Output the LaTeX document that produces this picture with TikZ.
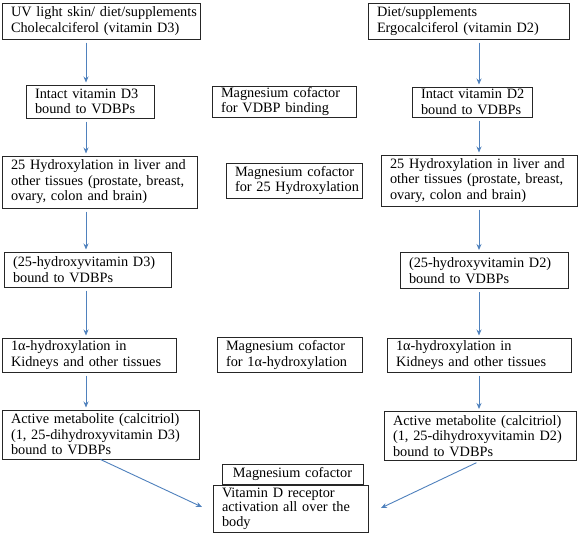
\documentclass[tikz,border=0pt]{standalone}
\usepackage{fontspec}
\setmainfont{Liberation Serif}
\usetikzlibrary{arrows.meta}
\definecolor{arrblue}{RGB}{79,129,189}
\newcommand{\Lx}[1]{\mbox{#1}}
\begin{document}
\begin{tikzpicture}[x=1pt,y=-1pt,
  box/.style={draw=black!85, line width=1pt, fill=white, align=left,
    inner xsep=9pt, inner ysep=1pt, font=\fontsize{14.3}{15.5}\selectfont},
  arr/.style={draw=arrblue, line width=0.9pt, -{Stealth[length=6pt,width=5pt]},
    shorten <=3pt, shorten >=2pt}]
\useasboundingbox (0,0) rectangle (587,533);
\fill[white] (0,0) rectangle (587,533);
% left column
\node[box, minimum width=198pt, minimum height=36pt, text width=180pt] (uv) at (101,21)
  {\Lx{UV light skin/ diet/supplements}\\\Lx{Cholecalciferol (vitamin D3)}};
\node[box, minimum width=128pt, minimum height=33pt, text width=110pt] (i3) at (90,101.5)
  {\Lx{Intact vitamin D3}\\\Lx{bound to VDBPs}};
\node[box, minimum width=195pt, minimum height=52pt, text width=177pt] (h3) at (99.5,182)
  {\Lx{25 Hydroxylation in liver and}\\\Lx{other tissues (prostate, breast,}\\\Lx{ovary, colon and brain)}};
\node[box, minimum width=167pt, minimum height=35pt, text width=149pt] (v3) at (87.5,269.5)
  {\Lx{(25-hydroxyvitamin D3)}\\\Lx{bound to VDBPs}};
\node[box, minimum width=174pt, minimum height=34pt, text width=156pt] (k3) at (89,355)
  {\Lx{1α-hydroxylation in}\\\Lx{Kidneys and other tissues}};
\node[box, minimum width=197pt, minimum height=49pt, text width=179pt] (c3) at (100.5,434.5)
  {\Lx{Active metabolite (calcitriol)}\\\Lx{(1, 25-dihydroxyvitamin D3)}\\\Lx{bound to VDBPs}};
% middle column
\node[box, minimum width=144pt, minimum height=31pt, text width=126pt] (m1) at (284,101.5)
  {\Lx{Magnesium cofactor}\\\Lx{for VDBP binding}};
\node[box, minimum width=136pt, minimum height=35pt, text width=118pt] (m2) at (294,180.5)
  {\Lx{Magnesium cofactor}\\\Lx{for 25 Hydroxylation}};
\node[box, minimum width=145pt, minimum height=35pt, text width=127pt] (m3) at (289.5,355)
  {\Lx{Magnesium cofactor}\\\Lx{for 1α-hydroxylation}};
\node[box, minimum width=141pt, minimum height=20pt, text width=123pt, align=center] (m4) at (292.5,474)
  {Magnesium cofactor};
\node[box, minimum width=155pt, minimum height=47pt, text width=137pt,
  font=\fontsize{14.3}{14.5}\selectfont] (vdr) at (290.5,508.5)
  {\Lx{Vitamin D receptor}\\\Lx{activation all over the}\\\Lx{body}};
% right column
\node[box, minimum width=201pt, minimum height=36pt, text width=183pt] (uv2) at (468.5,21)
  {\Lx{Diet/supplements}\\\Lx{Ergocalciferol (vitamin D2)}};
\node[box, minimum width=120pt, minimum height=30pt, text width=102pt] (i2) at (472,102)
  {\Lx{Intact vitamin D2}\\\Lx{bound to VDBPs}};
\node[box, minimum width=196pt, minimum height=51pt, text width=178pt] (h2) at (479,180.5)
  {\Lx{25 Hydroxylation in liver and}\\\Lx{other tissues (prostate, breast,}\\\Lx{ovary, colon and brain)}};
\node[box, minimum width=168pt, minimum height=36pt, text width=150pt] (v2) at (484,270.5)
  {\Lx{(25-hydroxyvitamin D2)}\\\Lx{bound to VDBPs}};
\node[box, minimum width=184pt, minimum height=34pt, text width=166pt] (k2) at (479,355)
  {\Lx{1α-hydroxylation in}\\\Lx{Kidneys and other tissues}};
\node[box, minimum width=192pt, minimum height=49pt, text width=174pt] (c2) at (480,436)
  {\Lx{Active metabolite (calcitriol)}\\\Lx{(1, 25-dihydroxyvitamin D2)}\\\Lx{bound to VDBPs}};
% arrow columns
\coordinate (xl) at (86,0);
\coordinate (xr) at (479,0);
\coordinate (vl) at (202,507);
\coordinate (vr) at (381,508);
\draw[arr] (uv.south -| xl) -- (i3.north -| xl);
\draw[arr] (i3.south -| xl) -- (h3.north -| xl);
\draw[arr] (h3.south -| xl) -- (v3.north -| xl);
\draw[arr] (v3.south -| xl) -- (k3.north -| xl);
\draw[arr] (k3.south -| xl) -- (c3.north -| xl);
\draw[arr] (uv2.south -| xr) -- (i2.north -| xr);
\draw[arr] (i2.south -| xr) -- (h2.north -| xr);
\draw[arr] (h2.south -| xr) -- (v2.north -| xr);
\draw[arr] (v2.south -| xr) -- (k2.north -| xr);
\draw[arr] (k2.south -| xr) -- (c2.north -| xr);
\draw[arr, shorten <=0pt, shorten >=0pt] (c3.south) -- (vl);
\draw[arr, shorten <=4pt, shorten >=0pt] (c2.south) -- (vr);
\end{tikzpicture}
\end{document}
